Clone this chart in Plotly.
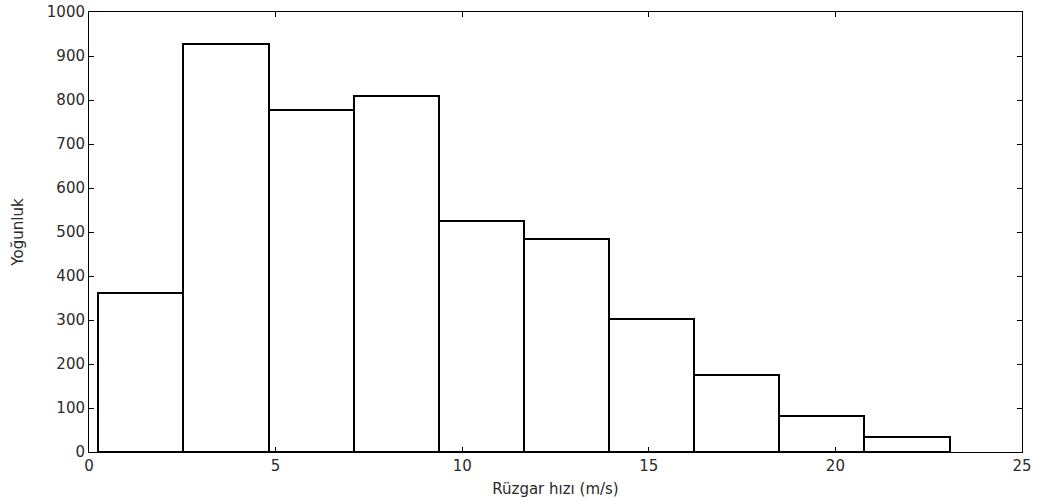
import plotly.graph_objects as go

# Histogram bin edges (m/s) and counts per bin
bin_edges = [0.25, 2.531, 4.812, 7.093, 9.374, 11.655, 13.936, 16.217, 18.498, 20.779, 23.06]
counts = [361, 927, 777, 809, 524, 485, 303, 174, 82, 34]

x_ticks = [0, 5, 10, 15, 20, 25]
y_ticks = [0, 100, 200, 300, 400, 500, 600, 700, 800, 900, 1000]

centers = [(a + b) / 2 for a, b in zip(bin_edges[:-1], bin_edges[1:])]
widths = [b - a for a, b in zip(bin_edges[:-1], bin_edges[1:])]

fig = go.Figure(
    go.Bar(
        x=centers,
        y=counts,
        width=widths,
        marker=dict(color="white", line=dict(color="black", width=2)),
        showlegend=False,
        hoverinfo="x+y",
    )
)

font = dict(family="DejaVu Sans, Verdana, sans-serif", size=15, color="#2a2a2a")

fig.update_layout(
    width=1040,
    height=504,
    margin=dict(l=89, r=18, t=12, b=52),
    paper_bgcolor="white",
    plot_bgcolor="white",
    font=font,
    bargap=0,
)

fig.update_xaxes(
    range=[0, 25],
    tickvals=x_ticks,
    ticks="inside",
    ticklen=5,
    tickcolor="black",
    showline=True,
    linecolor="black",
    linewidth=1,
    mirror="allticks",
    showgrid=False,
    zeroline=False,
    automargin=False,
    title=dict(text="Rüzgar hızı (m/s)", standoff=9, font=font),
)
fig.update_yaxes(
    range=[0, 1000],
    tickvals=y_ticks,
    ticks="inside",
    ticklen=5,
    tickcolor="black",
    showline=True,
    linecolor="black",
    linewidth=1,
    mirror="allticks",
    showgrid=False,
    zeroline=False,
    automargin=False,
    title=dict(text="Yoğunluk", standoff=19, font=font),
)

fig.write_html("out.html")
